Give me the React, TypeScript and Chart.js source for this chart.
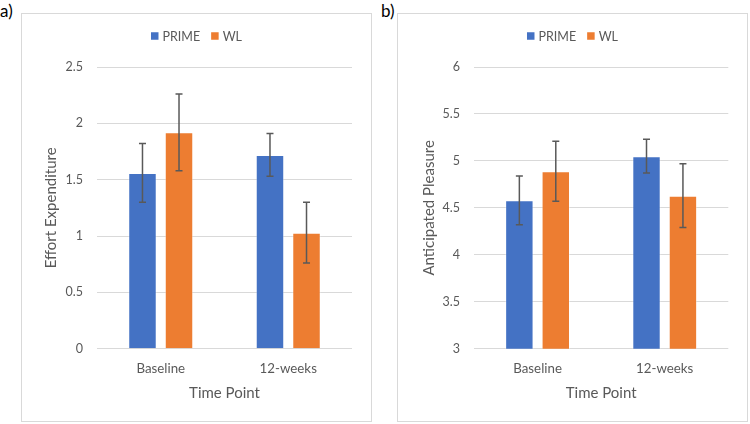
import React, { useEffect, useRef } from "react";
import { Chart, registerables } from "chart.js";

Chart.register(...registerables);

const categories = ["Baseline", "12-weeks"];
const seriesNames = ["PRIME", "WL"];
const xTitle = "Time Point";

const effortPrime = [1.56, 1.72];
const effortWL = [1.92, 1.03];
const effortPrimeErr = [0.26, 0.19];
const effortWLErr = [0.34, 0.27];

const pleasurePrime = [4.58, 5.05];
const pleasureWL = [4.89, 4.63];
const pleasurePrimeErr = [0.26, 0.18];
const pleasureWLErr = [0.32, 0.34];

const effortTicks = { min: 0, max: 2.5, step: 0.5 };
const pleasureTicks = { min: 3, max: 6, step: 0.5 };

const BLUE = "#4472C4";
const ORANGE = "#ED7D31";
const TEXT = "#595959";
const GRID = "#d9d9d9";
const FONT = "Lato, 'Noto Sans', sans-serif";

const errorBarPlugin = {
  id: "errorBars",
  afterDatasetsDraw(chart: any) {
    const errs = chart.options.plugins.errorBars?.errors as number[][];
    if (!errs) return;
    const ctx = chart.ctx;
    const yScale = chart.scales.y;
    ctx.save();
    ctx.strokeStyle = "#595959";
    ctx.lineWidth = 1.5;
    chart.data.datasets.forEach((ds: any, i: number) => {
      const meta = chart.getDatasetMeta(i);
      meta.data.forEach((el: any, j: number) => {
        const v = ds.data[j];
        const e = errs[i][j];
        const yt = yScale.getPixelForValue(v + e);
        const yb = yScale.getPixelForValue(v - e);
        const x = el.x;
        ctx.beginPath();
        ctx.moveTo(x, yt);
        ctx.lineTo(x, yb);
        ctx.moveTo(x - 3.5, yt);
        ctx.lineTo(x + 3.5, yt);
        ctx.moveTo(x - 3.5, yb);
        ctx.lineTo(x + 3.5, yb);
        ctx.stroke();
      });
    });
    ctx.restore();
  },
};

const decorPlugin = {
  id: "decor",
  afterDraw(chart: any) {
    const opts = chart.options.plugins.decor;
    const ctx = chart.ctx;
    const area = chart.chartArea;
    ctx.save();
    const items = chart.data.datasets.map((d: any) => ({ label: d.label, color: d.backgroundColor }));
    ctx.font = `12.5px ${FONT}`;
    const box = 7.5;
    const gapText = 4;
    const gapItem = 11;
    const widths = items.map((it: any) => box + gapText + ctx.measureText(it.label).width);
    const total = widths.reduce((a: number, b: number) => a + b, 0) + gapItem * (items.length - 1);
    let x = chart.width / 2 - total / 2;
    const yc = 22;
    items.forEach((it: any, i: number) => {
      ctx.fillStyle = it.color;
      ctx.fillRect(x, yc - box / 2, box, box);
      ctx.fillStyle = TEXT;
      ctx.textBaseline = "middle";
      ctx.textAlign = "left";
      ctx.fillText(it.label, x + box + gapText, yc + 0.5);
      x += widths[i] + gapItem;
    });
    ctx.fillStyle = TEXT;
    ctx.font = `15px ${FONT}`;
    ctx.textAlign = "center";
    ctx.textBaseline = "middle";
    ctx.fillText(xTitle, (area.left + area.right) / 2, opts.xTitleY);
    ctx.translate(opts.yTitleX, (area.top + area.bottom) / 2);
    ctx.rotate(-Math.PI / 2);
    ctx.fillText(opts.yTitle, 0, 0);
    ctx.restore();
  },
};

function Panel(props: {
  primeVals: number[];
  wlVals: number[];
  primeErr: number[];
  wlErr: number[];
  ticks: { min: number; max: number; step: number };
  yTitle: string;
  yTitleX: number;
  yWidth: number;
  rightPad: number;
}) {
  const ref = useRef<HTMLCanvasElement>(null);
  useEffect(() => {
    if (!ref.current) return;
    const chart = new Chart(ref.current, {
      type: "bar",
      data: {
        labels: categories,
        datasets: [
          {
            label: seriesNames[0],
            data: props.primeVals,
            backgroundColor: BLUE,
            borderColor: "rgba(255,255,255,0.35)",
            borderWidth: 1,
            categoryPercentage: 0.573,
            barPercentage: 0.78,
          },
          {
            label: seriesNames[1],
            data: props.wlVals,
            backgroundColor: ORANGE,
            borderColor: "rgba(255,255,255,0.35)",
            borderWidth: 1,
            categoryPercentage: 0.573,
            barPercentage: 0.78,
          },
        ],
      },
      plugins: [errorBarPlugin, decorPlugin],
      options: {
        responsive: false,
        animation: false,
        layout: { padding: { top: 53, right: props.rightPad, left: 0, bottom: 0 } },
        plugins: {
          legend: { display: false },
          tooltip: { enabled: false },
          errorBars: { errors: [props.primeErr, props.wlErr] },
          decor: { yTitle: props.yTitle, yTitleX: props.yTitleX, xTitleY: 379 },
        } as any,
        scales: {
          x: {
            grid: { display: false, drawTicks: false },
            border: { display: false },
            ticks: { padding: 12, color: TEXT, font: { family: FONT, size: 13.3 } },
            afterFit: (s: any) => {
              s.height = 72.3;
            },
          },
          y: {
            min: props.ticks.min,
            max: props.ticks.max,
            ticks: {
              stepSize: props.ticks.step,
              padding: 14,
              color: TEXT,
              font: { family: FONT, size: 12.5 },
              callback: (v: any) => String(v),
            },
            grid: { color: GRID, drawTicks: false, lineWidth: 1 },
            border: { display: false },
            afterFit: (s: any) => {
              s.width = props.yWidth;
            },
          },
        },
      } as any,
    });
    return () => chart.destroy();
  }, []);
  return <canvas ref={ref} width={349} height={407} />;
}

export default function App() {
  const boxStyle: React.CSSProperties = {
    position: "absolute",
    top: 13,
    width: 349,
    height: 407,
    border: `1px solid ${GRID}`,
    background: "#fff",
  };
  const labelStyle: React.CSSProperties = {
    position: "absolute",
    top: 1,
    fontFamily: FONT,
    fontSize: 17,
    color: "#000",
    lineHeight: "20px",
  };
  return (
    <div style={{ position: "absolute", left: 0, top: 0, width: 750, height: 424, background: "#fff" }}>
      <div style={{ ...labelStyle, left: 0 }}>a)</div>
      <div style={{ ...labelStyle, left: 381 }}>b)</div>
      <div style={{ ...boxStyle, left: 21 }}>
        <Panel
          primeVals={effortPrime}
          wlVals={effortWL}
          primeErr={effortPrimeErr}
          wlErr={effortWLErr}
          ticks={effortTicks}
          yTitle="Effort Expenditure"
          yTitleX={29.5}
          yWidth={75}
          rightPad={19}
        />
      </div>
      <div style={{ ...boxStyle, left: 397 }}>
        <Panel
          primeVals={pleasurePrime}
          wlVals={pleasureWL}
          primeErr={pleasurePrimeErr}
          wlErr={pleasureWLErr}
          ticks={pleasureTicks}
          yTitle="Anticipated Pleasure"
          yTitleX={31.5}
          yWidth={76}
          rightPad={18.7}
        />
      </div>
    </div>
  );
}
